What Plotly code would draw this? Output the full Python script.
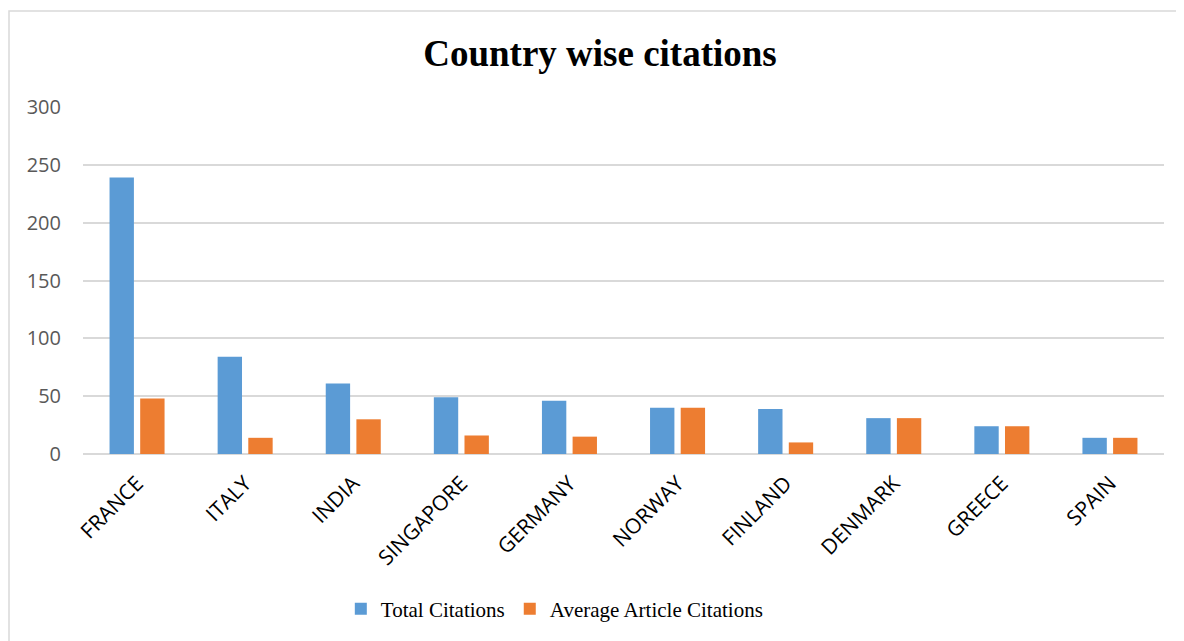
import plotly.graph_objects as go

countries = ["FRANCE", "ITALY", "INDIA", "SINGAPORE", "GERMANY", "NORWAY",
             "FINLAND", "DENMARK", "GREECE", "SPAIN"]
total_citations = [239, 84, 61, 49, 46, 40, 39, 31, 24, 14]
avg_article_citations = [48, 14, 30, 16, 15, 40, 10, 31, 24, 14]
y_ticks = [0, 50, 100, 150, 200, 250, 300]

# page has an 8px body margin, so the figure is 8px smaller than the window
W, H = 1176, 633
L, R, T, B = 75, 20, 99, 187
pw = W - L - R
ph = H - T - B

fig = go.Figure()
fig.add_trace(go.Bar(x=countries, y=total_citations, name="Total Citations",
                     marker=dict(color="#5B9BD5", line=dict(width=0))))
fig.add_trace(go.Bar(x=countries, y=avg_article_citations, name="Average Article Citations",
                     marker=dict(color="#ED7D31", line=dict(width=0))))

fig.add_shape(type="rect", xref="paper", yref="paper",
              x0=(1 - L) / pw, x1=(W + 4 - L) / pw,
              y0=(H - B - (H + 4)) / ph, y1=(H - B - 3) / ph,
              line=dict(color="#D9D9D9", width=1.5), fillcolor="rgba(0,0,0,0)", layer="below")

fig.update_layout(
    width=W, height=H,
    margin=dict(l=L, r=R, t=T, b=B, pad=0),
    paper_bgcolor="white", plot_bgcolor="white",
    title=dict(text="<b>Country wise citations</b>", x=592 / W, xanchor="center",
               y=1 - 45 / H, yanchor="middle",
               font=dict(family="Liberation Serif", size=37, color="black")),
    barmode="group", bargap=0.433, bargroupgap=0.205,
    legend=dict(orientation="h", x=0.436, xanchor="center", y=-(601 - (H - B)) / ph,
                yanchor="middle", font=dict(family="Liberation Serif", size=21, color="black"),
                itemwidth=30, traceorder="normal"),
    showlegend=True,
)
fig.update_yaxes(range=[0, 300], tickvals=y_ticks, showgrid=True, gridcolor="#D9D9D9",
                 gridwidth=1.5, zeroline=True, zerolinecolor="#D9D9D9", zerolinewidth=1.5,
                 tickfont=dict(family="Open Sans", size=20, color="#595959"),
                 ticks="", ticklabelstandoff=21, fixedrange=True)
fig.update_xaxes(tickangle=-45, tickfont=dict(family="Open Sans", size=21, color="black"),
                 showline=False, ticks="", ticklabelstandoff=12, fixedrange=True)

fig.write_html("out.html")
